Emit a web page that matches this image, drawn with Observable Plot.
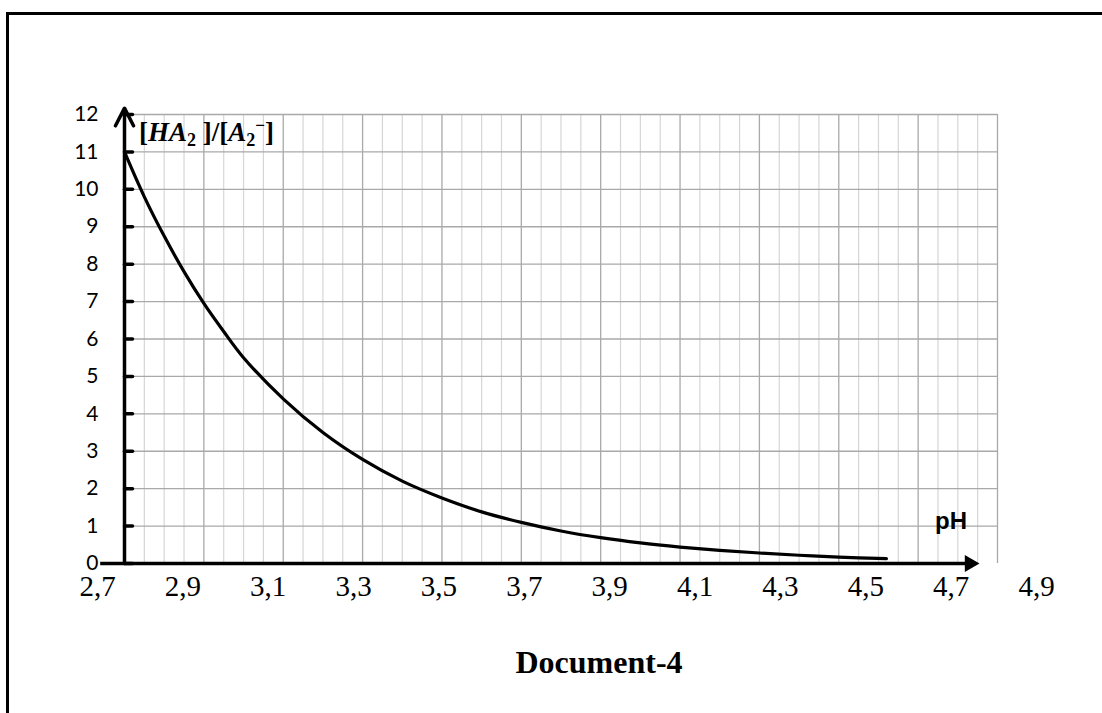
<!DOCTYPE html>
<html>
<head>
<meta charset="utf-8">
<script src="https://cdn.jsdelivr.net/npm/d3@7"></script>
<script src="https://cdn.jsdelivr.net/npm/@observablehq/plot@0.6"></script>
<style>
  html, body { margin: 0; padding: 0; background: #fff; width: 1102px; height: 713px; overflow: hidden; }
  #frame { position: absolute; left: 6px; top: 12px; width: 1200px; height: 800px;
           border-left: 3px solid #000; border-top: 3px solid #000; box-sizing: border-box; }
  #chart, #xlabels { position: absolute; left: 0; }
  #chart { top: 0; }
  #xlabels { top: 565px; }
  #ylabel { position: absolute; left: 139px; top: 116px; font-family: "Liberation Serif", serif;
            font-size: 27px; font-weight: bold; color: #000; white-space: nowrap; }
  #ylabel sub { font-size: 18px; vertical-align: -5px; }
  #ylabel sup { font-size: 17px; vertical-align: 10px; }
  #phlabel { position: absolute; left: 935px; top: 507px; font-family: "Liberation Sans", Arial, sans-serif;
             font-size: 24px; font-weight: bold; color: #000; }
  #title { position: absolute; left: 0; top: 646px; width: 1198px; text-align: center; line-height: 32px;
           font-family: "Liberation Serif", serif; font-size: 32px; font-weight: bold; color: #000; }
</style>
</head>
<body>
<div id="frame"></div>
<div id="chart"></div>
<div id="xlabels"></div>
<div id="ylabel">[<i>HA</i><sub>2</sub> ]/[<i>A</i><sub>2</sub><sup>−</sup>]</div>
<div id="phlabel">pH</div>
<div id="title">Document-4</div>
<script>
// ---- data ----
const pH    = [2.70, 2.75, 2.80, 2.85, 2.90, 2.95, 3.00, 3.10, 3.20, 3.30, 3.40, 3.50, 3.60, 3.70, 3.80, 3.90, 4.00, 4.10, 4.20, 4.30, 4.40, 4.50, 4.62];
const ratio = [11.0, 9.8, 8.75, 7.8, 6.95, 6.2, 5.5, 4.4, 3.5, 2.78, 2.2, 1.75, 1.38, 1.10, 0.87, 0.69, 0.55, 0.44, 0.35, 0.28, 0.22, 0.17, 0.13];

const yTicks = [0, 1, 2, 3, 4, 5, 6, 7, 8, 9, 10, 11, 12];
const xTickLabels = ["2,7", "2,9", "3,1", "3,3", "3,5", "3,7", "3,9", "4,1", "4,3", "4,5", "4,7", "4,9"];
const xTickValues = [2.7, 2.9, 3.1, 3.3, 3.5, 3.7, 3.9, 4.1, 4.3, 4.5, 4.7, 4.9];
const xGridStep = 0.05;
const xDomain = [2.7, 4.9];
const yDomain = [0, 12];
const xAxisStart = 2.64;
const xAxisEnd = 4.83;
const yAxisTop = 12.17;

const data = pH.map((p, i) => ({pH: p, r: ratio[i]}));
const majorSet = new Set(xTickValues.map(v => v.toFixed(2)));
const allGrid = d3.range(0, Math.round((xDomain[1] - xDomain[0]) / xGridStep) + 1)
  .map(i => +(xDomain[0] + i * xGridStep).toFixed(2));
const minorX = allGrid.filter(v => !majorSet.has(v.toFixed(2)));
const majorX = xTickValues.slice(1);

const tickShape = { draw(context, l) { context.moveTo(0, 0); context.lineTo(0, -l); } };

const chart = Plot.plot({
  width: 1102,
  height: 620,
  marginLeft: 124,
  marginRight: 105,
  marginTop: 114,
  marginBottom: 57,
  style: { background: "transparent", overflow: "visible" },
  x: { domain: xDomain, axis: null },
  y: { domain: yDomain, axis: null },
  marks: [
    Plot.ruleX(minorX, { y1: yDomain[0], y2: yDomain[1], stroke: "#d6d6d6", strokeWidth: 1.2 }),
    Plot.ruleX(majorX, { y1: yDomain[0], y2: yDomain[1], stroke: "#a9a9a9", strokeWidth: 1.3 }),
    Plot.ruleY(yTicks.slice(1), { x1: xDomain[0], x2: xDomain[1], stroke: "#a9a9a9", strokeWidth: 1.3 }),
    Plot.axisY({ ticks: yTicks, tickSize: 0, tickPadding: 26, fontSize: 21, label: null,
                 fontFamily: "Lato, 'Open Sans', sans-serif", fill: "#000" }),
    Plot.vector(yTicks, { x: xDomain[0], y: d => d, length: 8, rotate: 90, anchor: "start",
                          shape: tickShape, stroke: "#000", strokeWidth: 3.5 }),
    Plot.ruleY([0], { x1: xAxisStart, x2: xAxisEnd, stroke: "#000", strokeWidth: 3.5 }),
    Plot.dot([0], { x: xAxisEnd, y: 0, symbol: "triangle", rotate: 90, r: 6.3, fill: "#000", stroke: "none" }),
    Plot.arrow([0], { x1: xDomain[0], y1: 0, x2: xDomain[0], y2: yAxisTop, stroke: "#000",
                      strokeWidth: 3.5, headLength: 8.5, headAngle: 54 }),
    Plot.line(data, { x: "pH", y: "r", curve: "catmull-rom", stroke: "#000", strokeWidth: 3.2 })
  ]
});
document.getElementById("chart").appendChild(chart);

// Row of pH labels, as placed in the reference (a slightly wider label row)
const labels = Plot.plot({
  width: 1102,
  height: 50,
  marginLeft: 97,
  marginRight: 66,
  marginTop: 0,
  marginBottom: 0,
  style: { background: "transparent", overflow: "visible" },
  x: { domain: xDomain, axis: null, label: null },
  marks: [
    Plot.axisX({ ticks: xTickValues, tickFormat: (d, i) => xTickLabels[i], anchor: "top", tickSize: 0, label: null,
                 tickPadding: 5, fontSize: 29, fontFamily: "'Liberation Serif', 'Times New Roman', serif",
                 fill: "#000", dy: 35 })
  ]
});
document.getElementById("xlabels").appendChild(labels);
</script>
</body>
</html>
